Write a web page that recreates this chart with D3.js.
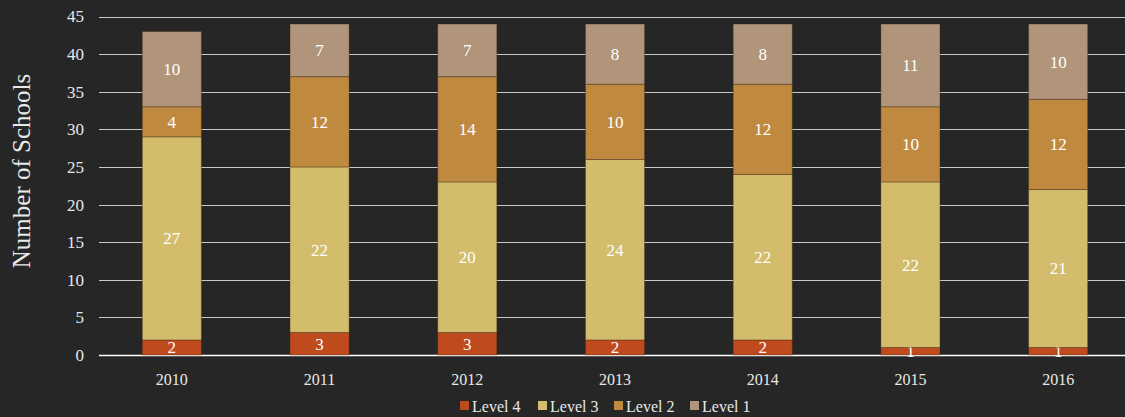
<!DOCTYPE html>
<html>
<head>
<meta charset="utf-8">
<script src="https://cdn.jsdelivr.net/npm/d3@7"></script>
<style>
  body { margin: 0; background: #262626; }
  svg { display: block; font-family: "Liberation Serif", "DejaVu Serif", serif; }
</style>
</head>
<body>
<div class="chart"></div>
<script>
const years = ["2010", "2011", "2012", "2013", "2014", "2015", "2016"];
const levels = ["Level 4", "Level 3", "Level 2", "Level 1"];
const level4 = [2, 3, 3, 2, 2, 1, 1];
const level3 = [27, 22, 20, 24, 22, 22, 21];
const level2 = [4, 12, 14, 10, 12, 10, 12];
const level1 = [10, 7, 7, 8, 8, 11, 10];
const yTicks = [0, 5, 10, 15, 20, 25, 30, 35, 40, 45];
const colors = ["#BE4A1D", "#D3BC6B", "#BF8A3F", "#B0957A"];

const width = 1125, height = 417;

const table = years.map((y, i) => ({
    year: y,
    "Level 4": level4[i],
    "Level 3": level3[i],
    "Level 2": level2[i],
    "Level 1": level1[i]
}));

const stack = d3.stack().keys(levels)(table);

const x = d3.scaleBand()
    .domain(years)
    .range([98, 1132])
    .paddingInner(0.6)
    .paddingOuter(0.3);

const y = d3.scaleLinear()
    .domain([0, 45])
    .range([355, 16.5]);

const color = d3.scaleOrdinal().domain(levels).range(colors);

const svg = d3.select(".chart").append("svg")
    .attr("width", width)
    .attr("height", height);

// background
svg.append("rect")
    .attr("width", width).attr("height", height)
    .attr("fill", "#262626");

// gridlines
svg.append("g")
    .selectAll("line")
    .data(yTicks)
    .enter()
    .append("line")
    .attr("x1", 99)
    .attr("x2", width)
    .attr("y1", d => Math.round(y(d)) + 0.5)
    .attr("y2", d => Math.round(y(d)) + 0.5)
    .attr("stroke", d => d === 0 ? "#ffffff" : "#c8c8c8")
    .attr("stroke-width", d => d === 0 ? 1.5 : 1);

// y tick labels
svg.append("g")
    .selectAll("text")
    .data(yTicks)
    .enter()
    .append("text")
    .attr("x", 84)
    .attr("y", d => y(d))
    .attr("dy", "0.35em")
    .attr("text-anchor", "end")
    .attr("font-size", 17)
    .attr("fill", "#e8e8e8")
    .text(d => d);

// bars
const groups = svg.append("g")
    .selectAll("g")
    .data(stack)
    .enter()
    .append("g")
    .attr("fill", d => color(d.key));

groups.selectAll("rect")
    .data(d => d)
    .enter()
    .append("rect")
    .attr("x", d => x(d.data.year))
    .attr("y", d => y(d[1]))
    .attr("width", x.bandwidth())
    .attr("height", d => y(d[0]) - y(d[1]))
    .attr("stroke", "rgba(60,40,20,0.35)")
    .attr("stroke-width", 1);

// segment labels
groups.selectAll("text")
    .data(d => d)
    .enter()
    .append("text")
    .attr("x", d => x(d.data.year) + x.bandwidth() / 2)
    .attr("y", d => (y(d[0]) + y(d[1])) / 2)
    .attr("dy", "0.35em")
    .attr("text-anchor", "middle")
    .attr("font-size", 17)
    .attr("fill", "#ffffff")
    .text(d => d[1] - d[0]);

// x labels
svg.append("g")
    .selectAll("text")
    .data(years)
    .enter()
    .append("text")
    .attr("x", d => x(d) + x.bandwidth() / 2)
    .attr("y", 379)
    .attr("dy", "0.35em")
    .attr("text-anchor", "middle")
    .attr("font-size", 16)
    .attr("fill", "#e8e8e8")
    .text(d => d);

// y axis title
svg.append("text")
    .attr("transform", "translate(30,171) rotate(-90)")
    .attr("text-anchor", "middle")
    .attr("font-size", 25)
    .attr("fill", "#e8e8e8")
    .text("Number of Schools");

// legend
const legendX = [460, 538, 614, 690];
const legend = svg.append("g");

legend.selectAll("rect")
    .data(levels)
    .enter()
    .append("rect")
    .attr("x", (d, i) => legendX[i])
    .attr("y", 401)
    .attr("width", 9)
    .attr("height", 9)
    .attr("fill", d => color(d));

legend.selectAll("text")
    .data(levels)
    .enter()
    .append("text")
    .attr("x", (d, i) => legendX[i] + 12)
    .attr("y", 406)
    .attr("dy", "0.35em")
    .attr("font-size", 16)
    .attr("fill", "#e8e8e8")
    .text(d => d);
</script>
</body>
</html>
